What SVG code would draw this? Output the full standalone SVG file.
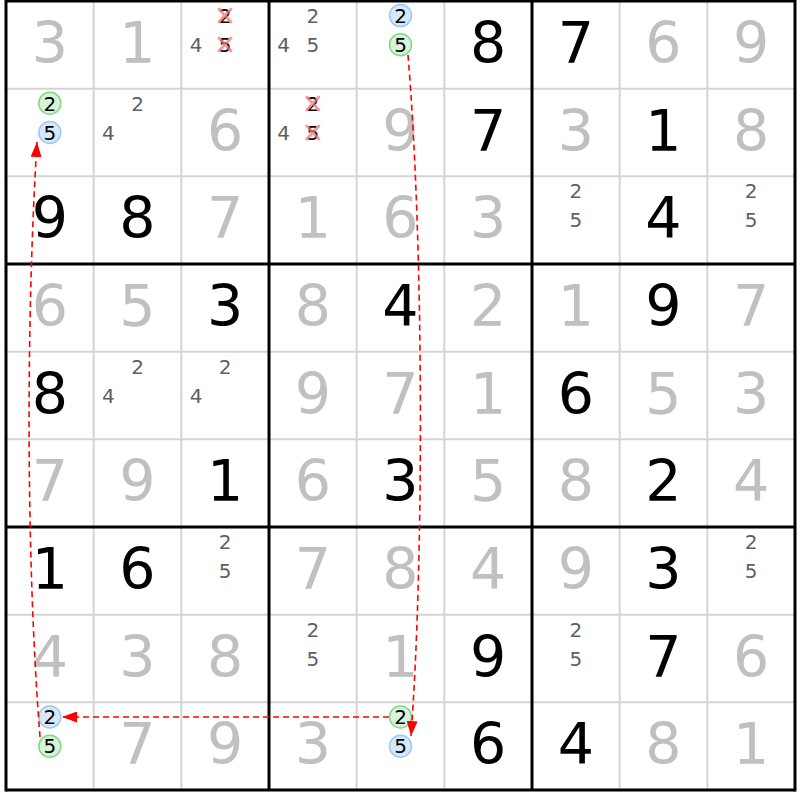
<svg xmlns="http://www.w3.org/2000/svg" width="800" height="800" viewBox="0 0 800 800">
<defs>
<style>
.big{font-family:"DejaVu Sans",Verdana,sans-serif;font-size:57px;text-anchor:middle}
.g{fill:#c0c0c0}
.b{fill:#000}
.c{font-family:"DejaVu Sans",Verdana,sans-serif;font-size:20px;text-anchor:middle;fill:#5f5f5f}
.k{fill:#000}
.thin{stroke:#d4d4d4;stroke-width:2}
.thick{stroke:#000;stroke-width:3}
.cb{fill:#d6e8fb;stroke:#9cc9f4;stroke-width:1.5}
.cg{fill:#d8f4d8;stroke:#86d686;stroke-width:1.5}
.x{stroke:#f07878;stroke-opacity:0.75;stroke-width:3;stroke-linecap:round}
.link{fill:none;stroke:#ff0000;stroke-width:1.6;stroke-dasharray:6,4}
</style>
<marker id="ah" markerUnits="userSpaceOnUse" markerWidth="15" markerHeight="11" refX="15" refY="5.5" orient="auto">
<path d="M0,0 L15,5.5 L0,11 z" fill="#ff0000"/>
</marker>
</defs>
<rect width="800" height="800" fill="#fff"/>
<g id="grid">
<g class="thin">
<line x1="93.67" y1="1" x2="93.67" y2="790"/><line x1="181.33" y1="1" x2="181.33" y2="790"/>
<line x1="356.67" y1="1" x2="356.67" y2="790"/><line x1="444.33" y1="1" x2="444.33" y2="790"/>
<line x1="619.67" y1="1" x2="619.67" y2="790"/><line x1="707.33" y1="1" x2="707.33" y2="790"/>
<line x1="6" y1="88.67" x2="795" y2="88.67"/><line x1="6" y1="176.33" x2="795" y2="176.33"/>
<line x1="6" y1="351.67" x2="795" y2="351.67"/><line x1="6" y1="439.33" x2="795" y2="439.33"/>
<line x1="6" y1="614.67" x2="795" y2="614.67"/><line x1="6" y1="702.33" x2="795" y2="702.33"/>
</g>
<g class="thick">
<line x1="6" y1="-0.5" x2="6" y2="791.5"/><line x1="269" y1="1" x2="269" y2="790"/>
<line x1="532" y1="1" x2="532" y2="790"/><line x1="795" y1="-0.5" x2="795" y2="791.5"/>
<line x1="6" y1="1" x2="795" y2="1"/><line x1="6" y1="264" x2="795" y2="264"/>
<line x1="6" y1="527" x2="795" y2="527"/><line x1="6" y1="790" x2="795" y2="790"/>
</g>
</g>
<g id="digits">
<text class="big g" x="49.8" y="62.8">3</text><text class="big g" x="137.5" y="62.8">1</text>
<text class="big b" x="488.2" y="62.8">8</text><text class="big b" x="575.8" y="62.8">7</text>
<text class="big g" x="663.5" y="62.8">6</text><text class="big g" x="751.2" y="62.8">9</text>
<text class="big g" x="225.2" y="150.5">6</text><text class="big g" x="400.5" y="150.5">9</text>
<text class="big b" x="488.2" y="150.5">7</text><text class="big g" x="575.8" y="150.5">3</text>
<text class="big b" x="663.5" y="150.5">1</text><text class="big g" x="751.2" y="150.5">8</text>
<text class="big b" x="49.8" y="238.2">9</text><text class="big b" x="137.5" y="238.2">8</text>
<text class="big g" x="225.2" y="238.2">7</text><text class="big g" x="312.8" y="238.2">1</text>
<text class="big g" x="400.5" y="238.2">6</text><text class="big g" x="488.2" y="238.2">3</text>
<text class="big b" x="663.5" y="238.2">4</text>
<text class="big g" x="49.8" y="325.8">6</text><text class="big g" x="137.5" y="325.8">5</text>
<text class="big b" x="225.2" y="325.8">3</text><text class="big g" x="312.8" y="325.8">8</text>
<text class="big b" x="400.5" y="325.8">4</text><text class="big g" x="488.2" y="325.8">2</text>
<text class="big g" x="575.8" y="325.8">1</text><text class="big b" x="663.5" y="325.8">9</text>
<text class="big g" x="751.2" y="325.8">7</text>
<text class="big b" x="49.8" y="413.5">8</text>
<text class="big g" x="312.8" y="413.5">9</text><text class="big g" x="400.5" y="413.5">7</text>
<text class="big g" x="488.2" y="413.5">1</text><text class="big b" x="575.8" y="413.5">6</text>
<text class="big g" x="663.5" y="413.5">5</text><text class="big g" x="751.2" y="413.5">3</text>
<text class="big g" x="49.8" y="501.2">7</text><text class="big g" x="137.5" y="501.2">9</text>
<text class="big b" x="225.2" y="501.2">1</text><text class="big g" x="312.8" y="501.2">6</text>
<text class="big b" x="400.5" y="501.2">3</text><text class="big g" x="488.2" y="501.2">5</text>
<text class="big g" x="575.8" y="501.2">8</text><text class="big b" x="663.5" y="501.2">2</text>
<text class="big g" x="751.2" y="501.2">4</text>
<text class="big b" x="49.8" y="588.8">1</text><text class="big b" x="137.5" y="588.8">6</text>
<text class="big g" x="312.8" y="588.8">7</text><text class="big g" x="400.5" y="588.8">8</text>
<text class="big g" x="488.2" y="588.8">4</text><text class="big g" x="575.8" y="588.8">9</text>
<text class="big b" x="663.5" y="588.8">3</text>
<text class="big g" x="49.8" y="676.5">4</text><text class="big g" x="137.5" y="676.5">3</text>
<text class="big g" x="225.2" y="676.5">8</text><text class="big g" x="400.5" y="676.5">1</text>
<text class="big b" x="488.2" y="676.5">9</text><text class="big b" x="663.5" y="676.5">7</text>
<text class="big g" x="751.2" y="676.5">6</text>
<text class="big g" x="137.5" y="764.2">7</text><text class="big g" x="225.2" y="764.2">9</text>
<text class="big g" x="312.8" y="764.2">3</text><text class="big b" x="488.2" y="764.2">6</text>
<text class="big b" x="575.8" y="764.2">4</text><text class="big g" x="663.5" y="764.2">8</text>
<text class="big g" x="751.2" y="764.2">1</text>
</g>
<g id="candidates">
<text class="c" x="196" y="52">4</text>
<text class="c k" x="225.2" y="22.8">2</text><text class="c k" x="225.2" y="52">5</text>
<text class="c" x="283.6" y="52">4</text><text class="c" x="312.8" y="22.8">2</text><text class="c" x="312.8" y="52">5</text>
<text class="c" x="108.3" y="139.7">4</text><text class="c" x="137.5" y="110.5">2</text>
<text class="c" x="283.6" y="139.7">4</text>
<text class="c k" x="312.8" y="110.5">2</text><text class="c k" x="312.8" y="139.7">5</text>
<text class="c" x="575.8" y="198.2">2</text><text class="c" x="575.8" y="227.4">5</text>
<text class="c" x="751.2" y="198.2">2</text><text class="c" x="751.2" y="227.4">5</text>
<text class="c" x="108.3" y="402.7">4</text><text class="c" x="137.5" y="373.5">2</text>
<text class="c" x="196" y="402.7">4</text><text class="c" x="225.2" y="373.5">2</text>
<text class="c" x="225.2" y="548.8">2</text><text class="c" x="225.2" y="578">5</text>
<text class="c" x="751.2" y="548.8">2</text><text class="c" x="751.2" y="578">5</text>
<text class="c" x="312.8" y="636.5">2</text><text class="c" x="312.8" y="665.7">5</text>
<text class="c" x="575.8" y="636.5">2</text><text class="c" x="575.8" y="665.7">5</text>
</g>
<g id="eliminations">
<path class="x" d="M219,9 L231,22 M231,9 L219,22 M219,38 L231,51 M231,38 L219,51"/>
<path class="x" d="M306.8,97 L318.8,110 M318.8,97 L306.8,110 M306.8,126 L318.8,139 M318.8,126 L306.8,139"/>
</g>
<g id="chain-cells">
<g id="r0c4"><circle class="cb" cx="400.5" cy="15.6" r="11"/><text class="c k" x="400.5" y="22.8">2</text>
<circle class="cg" cx="400.5" cy="44.8" r="11"/><text class="c k" x="400.5" y="52">5</text></g>
<g id="r1c0"><circle class="cg" cx="49.8" cy="103.3" r="11"/><text class="c k" x="49.8" y="110.5">2</text>
<circle class="cb" cx="49.8" cy="132.5" r="11"/><text class="c k" x="49.8" y="139.7">5</text></g>
<g id="r8c0"><circle class="cb" cx="49.8" cy="717" r="11"/><text class="c k" x="49.8" y="724.2">2</text>
<circle class="cg" cx="49.8" cy="746.2" r="11"/><text class="c k" x="49.8" y="753.4">5</text></g>
<g id="r8c4"><circle class="cg" cx="400.5" cy="717" r="11"/><text class="c k" x="400.5" y="724.2">2</text>
<circle class="cb" cx="400.5" cy="746.2" r="11"/><text class="c k" x="400.5" y="753.4">5</text></g>
</g>
<g id="connectors">
<path class="link" d="M408,55 C424,250 424,560 411,736" marker-end="url(#ah)"/>
<path class="link" d="M389,717 L62,717" marker-end="url(#ah)"/>
<path class="link" d="M40,737 C26,560 26,320 37,142" marker-end="url(#ah)"/>
</g>
</svg>
